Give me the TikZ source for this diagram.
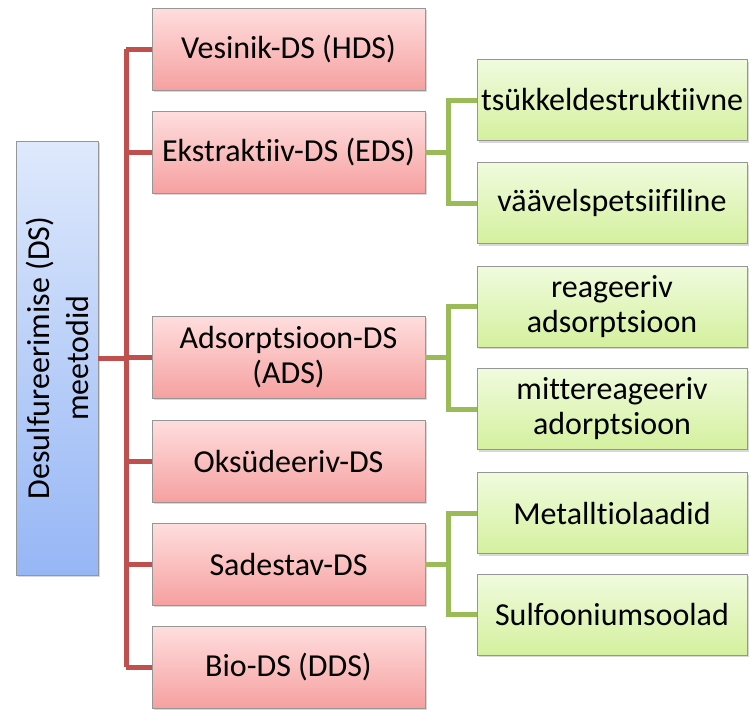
\documentclass[tikz,border=0pt]{standalone}
\usepackage{fontspec}
\setmainfont[Ligatures={NoCommon}]{Carlito}
\usetikzlibrary{shadows}
\definecolor{redline}{HTML}{C0504D}
\definecolor{greenline}{HTML}{9BBB59}
\definecolor{redtop}{RGB}{255,222,222}
\definecolor{redbot}{RGB}{246,160,160}
\definecolor{bluetop}{RGB}{222,233,252}
\definecolor{bluebot}{RGB}{150,182,245}
\definecolor{greentop}{RGB}{240,251,222}
\definecolor{greenbot}{RGB}{212,240,158}
\definecolor{boxborder}{RGB}{150,150,150}
\tikzset{
  basebox/.style={draw=boxborder, line width=0.8pt, align=center, inner sep=1pt,
    font=\fontsize{32}{35}\selectfont, text=black,
    drop shadow={opacity=0.3, shadow xshift=1.5pt, shadow yshift=-2pt}},
  redbox/.style={basebox, minimum width=273pt, minimum height=82pt, top color=redtop, bottom color=redbot},
  greenbox/.style={basebox, minimum width=270pt, minimum height=81pt, top color=greentop, bottom color=greenbot},
  bluebox/.style={basebox, minimum width=82pt, minimum height=434pt, top color=bluetop, bottom color=bluebot},
  redconn/.style={draw=redline, line width=5pt},
  greenconn/.style={draw=greenline, line width=5pt},
}
\begin{document}
\begin{tikzpicture}[x=1pt,y=-1pt]
\useasboundingbox[fill=white] (0,0) rectangle (749,710);
\coordinate (trunk) at (126,0);
\coordinate (gtrunk) at (448,0);
% nodes
\node[bluebox] (blue) at (57,358) {};
\node[rotate=90, align=center, font=\fontsize{32}{39}\selectfont] (bluetext) at (blue.center) {Desulfureerimise (DS)\\meetodid};
\node[redbox] (r1) at (288.5,49) {Vesinik-DS (HDS)};
\node[redbox] (r2) at (288.5,152) {Ekstraktiiv-DS (EDS)};
\node[redbox] (r3) at (288.5,357) {Adsorptsioon-DS\\(ADS)};
\node[redbox] (r4) at (288.5,461) {Oksüdeeriv-DS};
\node[redbox] (r5) at (288.5,564) {Sadestav-DS};
\node[redbox] (r6) at (288.5,667) {Bio-DS (DDS)};
\node[greenbox] (g1) at (612,100) {tsükkeldestruktiivne};
\node[greenbox] (g2) at (612,203) {väävelspetsiifiline};
\node[greenbox] (g3) at (612,306.5) {reageeriv\\adsorptsioon};
\node[greenbox] (g4) at (612,409) {mittereageeriv\\adorptsioon};
\node[greenbox] (g5) at (612,513) {Metalltiolaadid};
\node[greenbox] (g6) at (612,614.5) {Sulfooniumsoolad};
% red connectors
\draw[redconn] (blue.east) -- (trunk |- blue.east);
\draw[redconn] (trunk |- r1.west) -- (trunk |- r6.west);
\foreach \r in {r1,r2,r3,r4,r5,r6}{
  \draw[redconn] (trunk |- \r.west) -- (\r.west);
}
% green connectors
\foreach \p/\a/\b in {r2/g1/g2, r3/g3/g4, r5/g5/g6}{
  \draw[greenconn] (\p.east) -- (gtrunk |- \p.east);
  \draw[greenconn] (\a.west) -- (gtrunk |- \a.west) -- (gtrunk |- \b.west) -- (\b.west);
}
\end{tikzpicture}
\end{document}
